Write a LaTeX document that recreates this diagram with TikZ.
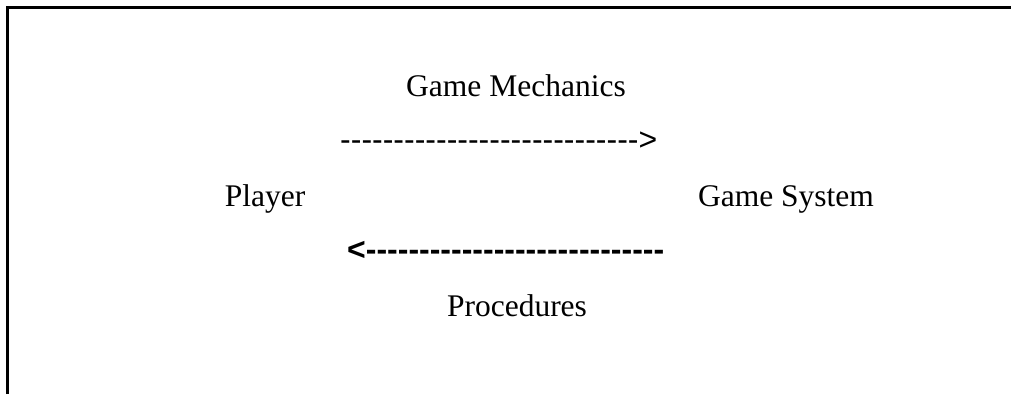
\documentclass[tikz,border=0pt]{standalone}
\usepackage{fontspec}
\setmainfont{Liberation Serif}
\newfontfamily\arialfont{Liberation Sans}
\begin{document}
\begin{tikzpicture}[x=1pt,y=1pt,
  lbl/.style={inner sep=0pt,anchor=base,font=\fontsize{31.5}{36}\selectfont},
  dashtxt/.style={inner sep=0pt,anchor=base west,font=\arialfont\fontsize{32}{36}\selectfont},
  frameline/.style={line width=2.3pt}]
\useasboundingbox (0,0) rectangle (1011,-394);
\draw[frameline] (7.5,-394) -- (7.5,-7.5) -- (1011,-7.5);
\node[lbl] (mech) at (516,-96) {Game Mechanics};
\node[lbl] (player) at (265,-206) {Player};
\node[lbl] (system) at (786,-206) {Game System};
\node[lbl] (proc) at (517,-316) {Procedures};
\node[dashtxt] (fwd) at (340,-150) {---------------------------->};
\node[dashtxt] (back) at (347,-260) {\bfseries <----------------------------};
\end{tikzpicture}
\end{document}
